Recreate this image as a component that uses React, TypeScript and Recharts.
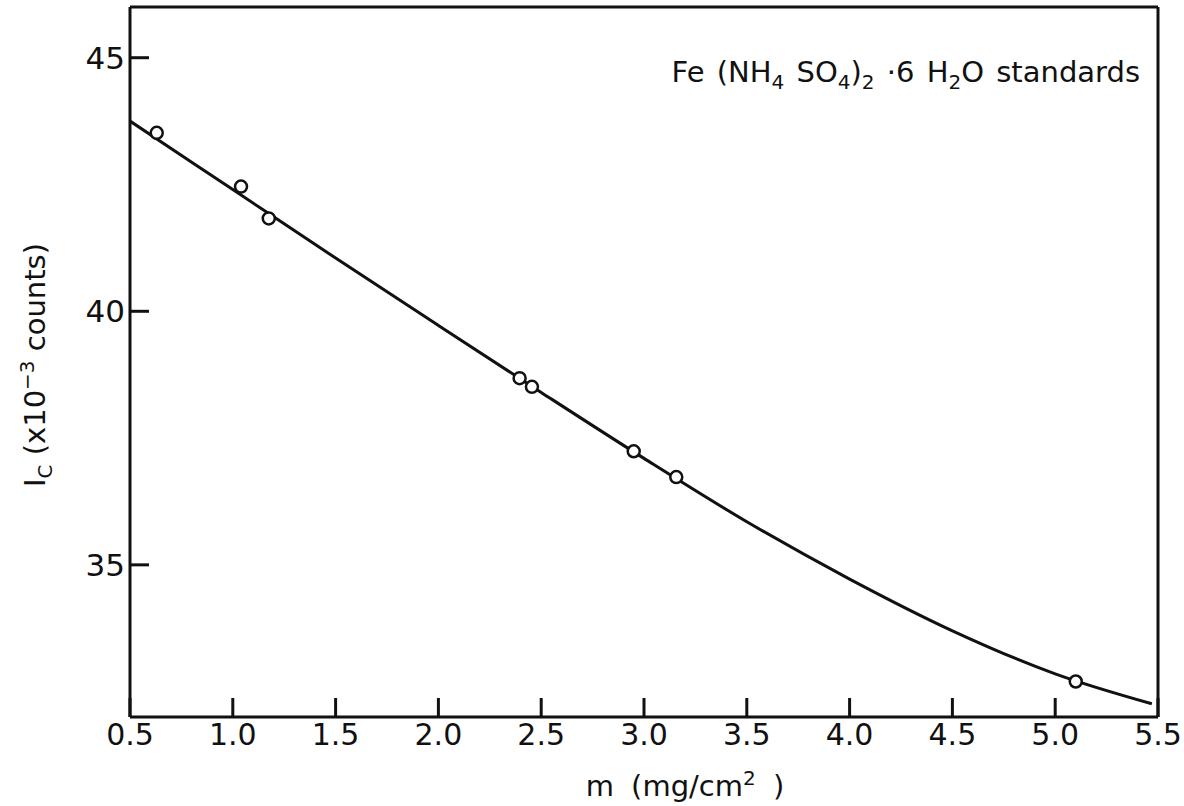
import { ComposedChart, Line, Scatter, XAxis, YAxis } from "recharts";

// fitted calibration curve
const CURVE_X = [0.5, 1.0, 1.5, 2.0, 2.5, 3.0, 3.5, 4.0, 4.5, 5.0, 5.47];
const CURVE_Y = [43.75, 42.4, 41.05, 39.72, 38.4, 37.1, 35.85, 34.72, 33.7, 32.85, 32.26];

// measured standards (open circles)
const STD_X = [0.63, 1.04, 1.175, 2.395, 2.455, 2.95, 3.157, 5.1];
const STD_Y = [43.52, 42.46, 41.83, 38.68, 38.51, 37.24, 36.73, 32.7];

const X_TICKS = [0.5, 1.0, 1.5, 2.0, 2.5, 3.0, 3.5, 4.0, 4.5, 5.0, 5.5];
const Y_TICKS = [35, 40, 45];

const FONT = "'DejaVu Sans', sans-serif";
const INK = "#111";
const TICK_LEN = 19;
const W = 3;

const curve = CURVE_X.map((x, i) => ({ x, y: CURVE_Y[i] }));
const standards = STD_X.map((x, i) => ({ x, y: STD_Y[i] }));

function BottomTick({ x, y, payload }: any) {
  return (
    <g>
      <line x1={x} x2={x} y1={y} y2={y - TICK_LEN} stroke={INK} strokeWidth={W} />
      <text x={x} y={y + 28} textAnchor="middle" fontSize={30} fontFamily={FONT} fill={INK}>
        {payload.value.toFixed(1)}
      </text>
    </g>
  );
}

function TopTick({ x, y }: any) {
  return <line x1={x} x2={x} y1={y} y2={y + TICK_LEN} stroke={INK} strokeWidth={W} />;
}

function LeftTick({ x, y, payload }: any) {
  return (
    <g>
      <line x1={x} x2={x + TICK_LEN} y1={y} y2={y} stroke={INK} strokeWidth={W} />
      <text x={x - 5} y={y + 11} textAnchor="end" fontSize={31} fontFamily={FONT} fill={INK}>
        {payload.value}
      </text>
    </g>
  );
}

function RightTick({ x, y }: any) {
  return <line x1={x} x2={x - TICK_LEN} y1={y} y2={y} stroke={INK} strokeWidth={W} />;
}

function OpenCircle({ cx, cy }: any) {
  return <circle cx={cx} cy={cy} r={6} fill="#fff" stroke={INK} strokeWidth={2.5} />;
}

const axisLine = { stroke: INK, strokeWidth: W };
const small = { fontSize: 20 };

export default function App() {
  return (
    <div
      style={{
        position: "absolute",
        left: 0,
        top: 0,
        width: 1184,
        height: 806,
        background: "#fff",
        fontFamily: FONT,
        color: INK,
      }}
    >
      <ComposedChart width={1184} height={806} margin={{ top: 6, right: 25, bottom: 29, left: 70 }}>
        <XAxis
          dataKey="x"
          type="number"
          domain={[0.5, 5.5]}
          ticks={X_TICKS}
          interval={0}
          height={60}
          tickSize={0}
          tickMargin={0}
          axisLine={axisLine}
          tickLine={false}
          tick={<BottomTick />}
          allowDataOverflow
        />
        <XAxis
          xAxisId="top"
          orientation="top"
          dataKey="x"
          type="number"
          domain={[0.5, 5.5]}
          ticks={X_TICKS.slice(1, -1)}
          interval={0}
          height={1}
          tickSize={0}
          tickMargin={0}
          axisLine={axisLine}
          tickLine={false}
          tick={<TopTick />}
        />
        <YAxis
          dataKey="y"
          type="number"
          domain={[32, 46]}
          ticks={Y_TICKS}
          interval={0}
          width={60}
          tickSize={0}
          tickMargin={0}
          axisLine={axisLine}
          tickLine={false}
          tick={<LeftTick />}
          allowDataOverflow
        />
        <YAxis
          yAxisId="right"
          orientation="right"
          type="number"
          domain={[32, 46]}
          ticks={Y_TICKS}
          interval={0}
          width={1}
          tickSize={0}
          tickMargin={0}
          axisLine={axisLine}
          tickLine={false}
          tick={<RightTick />}
        />
        <Line
          data={curve}
          dataKey="y"
          type="monotone"
          stroke={INK}
          strokeWidth={W}
          dot={false}
          activeDot={false}
          isAnimationActive={false}
        />
        <Scatter data={standards} dataKey="y" shape={<OpenCircle />} isAnimationActive={false} />
      </ComposedChart>

      <div
        style={{
          position: "absolute",
          left: 36,
          top: 365,
          transform: "translate(-50%, -50%) rotate(-90deg)",
          whiteSpace: "nowrap",
          fontSize: 29,
          lineHeight: 1,
        }}
      >
        I<sub style={small}>C</sub> (x10<sup style={small}>−3</sup> counts)
      </div>

      <div
        style={{
          position: "absolute",
          right: 44,
          top: 58,
          whiteSpace: "nowrap",
          fontSize: 29,
          lineHeight: 1,
          wordSpacing: 3,
        }}
      >
        Fe (NH<sub style={small}>4</sub> SO<sub style={small}>4</sub>)
        <sub style={small}>2</sub> ·6 H<sub style={small}>2</sub>O standards
      </div>

      <div
        style={{
          position: "absolute",
          left: 685,
          top: 768,
          transform: "translateX(-50%)",
          whiteSpace: "nowrap",
          fontSize: 29,
          lineHeight: 1,
          wordSpacing: 8,
        }}
      >
        m (mg/cm<sup style={small}>2</sup> )
      </div>
    </div>
  );
}
